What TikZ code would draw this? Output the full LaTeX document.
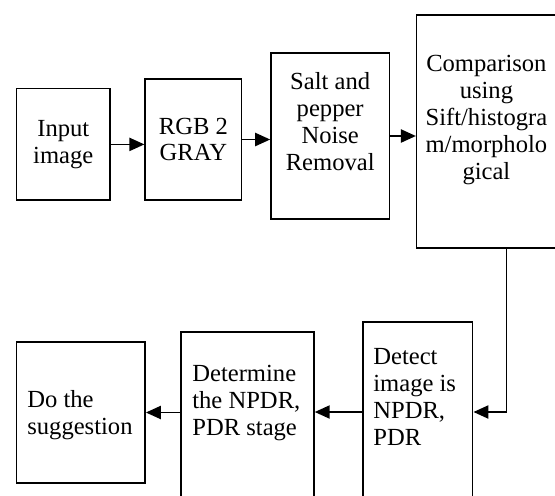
\documentclass[tikz,border=0pt]{standalone}
\usepackage{fontspec}
\setmainfont{Liberation Serif}
\usetikzlibrary{arrows.meta}

\begin{document}
\begin{tikzpicture}[x=0.02cm,y=-0.02cm,
		blok/.style={draw,line width=0.9pt,inner sep=0pt},
		txt/.style={inner sep=0pt,font=\fontsize{14}{15.3}\selectfont},
		pijl/.style={line width=0.9pt,-{Triangle[length=8.5pt,width=7.5pt]}}]
				\useasboundingbox (0,0) rectangle (555,495);
				\clip (0,0) rectangle (555,495);
				\node [blok,minimum width=1.87cm,minimum height=2.23cm] (input) at (63.3,144.4){};
				\node [blok,minimum width=1.93cm,minimum height=2.42cm] (rgb) at (193.4,139.5){};
				\node [blok,minimum width=2.37cm,minimum height=3.32cm] (salt) at (330.2,136){};
				\node [blok,minimum width=2.79cm,minimum height=4.66cm] (comp) at (486.4,131.5){};
				\node [blok,minimum width=2.2cm,minimum height=3.8cm] (detect) at (417.7,417){};
				\node [blok,minimum width=2.66cm,minimum height=3.6cm] (determ) at (247.5,422){};
				\node [blok,minimum width=2.57cm,minimum height=2.82cm] (suggest) at (80.9,412.5){};
				\node [txt,align=center] (inputtxt) at (input){Input\\image};
				\node [txt,align=center] (rgbtxt) at (rgb){RGB 2\\GRAY};
				\node [txt,align=center,anchor=north] (salttxt) at (330.2,72){Salt and\\pepper\\Noise\\Removal};
				\node [txt,align=center,anchor=north] (comptxt) at (486.4,55){Comparison\\using\\Sift/histogra\\m/morpholo\\gical};
				\node [txt,align=left,anchor=north west] (detecttxt) at (373,348){Detect\\image is\\NPDR,\\PDR};
				\node [txt,align=left,anchor=north west] (determtxt) at (192,365){Determine\\the NPDR,\\PDR stage};
				\node [txt,align=left,anchor=north west] (suggesttxt) at (27,390){Do the\\suggestion};
				\draw [pijl](input.east)--(input.east -| rgb.west);
				\draw [pijl](rgb.east)--(rgb.east -| salt.west);
				\draw [pijl](salt.east)--(salt.east -| comp.west);
				\draw [pijl]([xshift=0.4cm]comp.south)|-([yshift=0.1cm]detect.east);
				\draw [pijl]([yshift=0.1cm]detect.west)--([yshift=0.1cm]detect.west -| determ.east);
				\draw [pijl](determ.west |- suggest.east)--(suggest.east);
			\end{tikzpicture}
\end{document}
